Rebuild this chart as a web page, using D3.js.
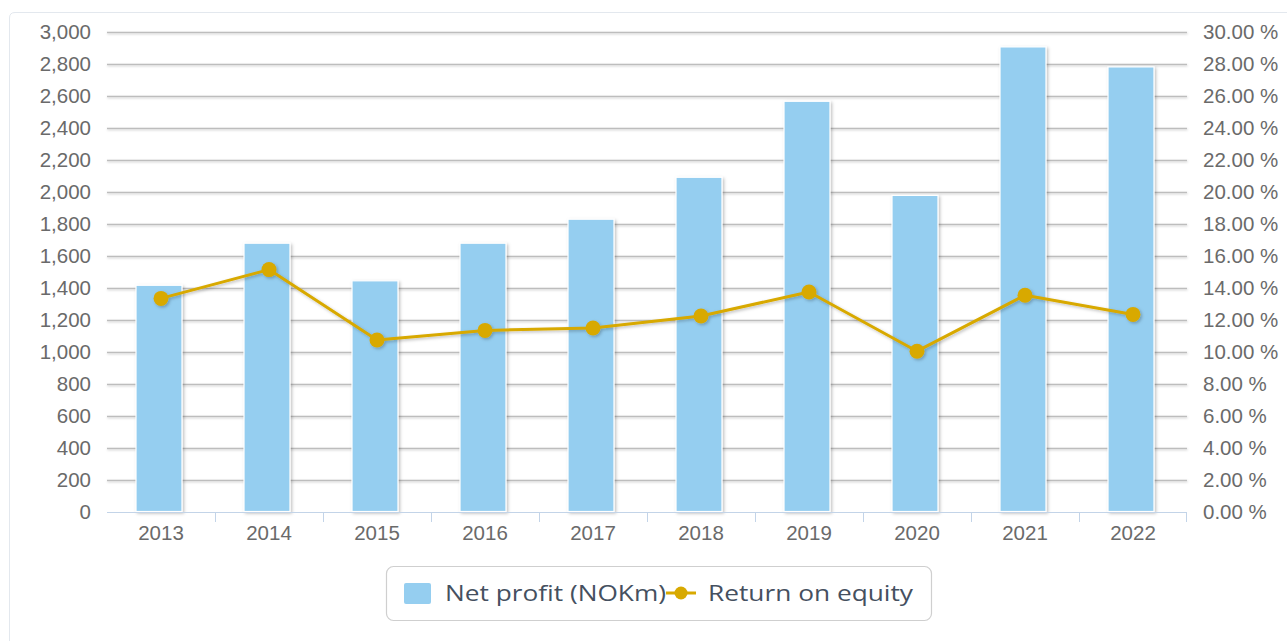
<!DOCTYPE html>
<html><head><meta charset="utf-8">
<script src="https://cdn.jsdelivr.net/npm/d3@7"></script>
<style>body{margin:0;background:#fff;}svg{display:block;}</style>
</head><body>
<svg id="c" width="1287" height="641"></svg>
<script>
const years = ["2013","2014","2015","2016","2017","2018","2019","2020","2021","2022"];
const netProfit = [1420, 1683, 1448, 1683, 1833, 2095, 2570, 1982, 2910, 2785];
const roe = [13.35, 15.15, 10.75, 11.35, 11.5, 12.25, 13.75, 10.05, 13.55, 12.35];
const leftTicks = d3.range(0, 3001, 200);
const rightTicks = d3.range(0, 30.01, 2);
const seriesNames = ["Net profit (NOKm)", "Return on equity"];

const barColor = "#95cef0", lineColor = "#d8a900";
const svg = d3.select("#c");
const defs = svg.append("defs");
const f = defs.append("filter").attr("id","sh").attr("x","-20%").attr("y","-20%").attr("width","150%").attr("height","150%");
f.append("feDropShadow").attr("dx",1.5).attr("dy",1.5).attr("stdDeviation",1.5).attr("flood-color","#000").attr("flood-opacity",0.25);
const f2 = defs.append("filter").attr("id","sh2").attr("x","-5%").attr("y","-50%").attr("width","110%").attr("height","200%");
f2.append("feDropShadow").attr("dx",0.5).attr("dy",1).attr("stdDeviation",0.8).attr("flood-color","#000").attr("flood-opacity",0.2);

// container border
svg.append("path").attr("d","M9.5,641 L9.5,18 Q9.5,12.5 15,12.5 L1287,12.5").attr("fill","none").attr("stroke","#e3e8ee").attr("stroke-width",1);

const L = 107, R = 1187, T = 32, B = 512;
const x = d3.scaleBand().domain(years).range([L, R]).paddingInner(0.565).paddingOuter(0.2825);
const yL = d3.scaleLinear().domain([0, 3000]).range([B, T]);
const yR = d3.scaleLinear().domain([0, 30]).range([B, T]);

const font = "'Liberation Sans', Arial, sans-serif";
const fs = 20.5;

// gridlines
svg.append("g").attr("filter","url(#sh2)").selectAll("line").data(leftTicks.filter(d=>d>0)).join("line")
  .attr("x1", L).attr("x2", R).attr("y1", d=>Math.round(yL(d))+0.5).attr("y2", d=>Math.round(yL(d))+0.5)
  .attr("stroke","#bdbdbd").attr("stroke-width",1.3);

// left axis
const gl = svg.append("g").attr("transform",`translate(${L},0)`)
  .call(d3.axisLeft(yL).tickValues(leftTicks).tickFormat(d3.format(",")).tickSize(0).tickPadding(16));
gl.select(".domain").remove();
gl.selectAll("text").attr("font-family",font).attr("font-size",fs).attr("fill","#6a6a6a");

// right axis
const gr = svg.append("g").attr("transform",`translate(${R},0)`)
  .call(d3.axisRight(yR).tickValues(rightTicks).tickFormat(d=>d3.format(".2f")(d)+" %").tickSize(0).tickPadding(16));
gr.select(".domain").remove();
gr.selectAll("text").attr("font-family",font).attr("font-size",fs).attr("fill","#6a6a6a");

// bars (slightly offset left like the original)
svg.append("g").attr("transform","translate(-2,0)").selectAll("rect").data(years).join("rect")
  .attr("x", d=>x(d)+0.5).attr("width", x.bandwidth()-1)
  .attr("y", (d,i)=>yL(netProfit[i])+0.5).attr("height",(d,i)=>B-yL(netProfit[i])-1)
  .attr("fill",barColor).attr("stroke","#fff").attr("stroke-width",1.2).attr("filter","url(#sh)");

// x axis
svg.append("line").attr("x1",L).attr("x2",R).attr("y1",B+0.5).attr("y2",B+0.5).attr("stroke","#c3d4e8").attr("stroke-width",1);
svg.append("g").selectAll("line").data(years.slice(1).concat(["end"])).join("line")
  .attr("x1",d=>d==="end"?R-0.5:Math.round(x(d)-x.step()*0.2825)+0.5)
  .attr("x2",d=>d==="end"?R-0.5:Math.round(x(d)-x.step()*0.2825)+0.5)
  .attr("y1",B).attr("y2",B+10).attr("stroke","#c3d4e8").attr("stroke-width",1);
svg.append("g").selectAll("text").data(years).join("text")
  .attr("x",d=>x(d)+x.bandwidth()/2).attr("y",540)
  .attr("text-anchor","middle").attr("font-family",font).attr("font-size",fs).attr("fill","#6a6a6a").text(d=>d);

// line
const cx = (d,i)=>x(years[i])+x.bandwidth()/2;
const line = d3.line().x((d,i)=>cx(d,i)).y(d=>yR(d));
const lg = svg.append("g").attr("filter","url(#sh)");
lg.append("path").datum(roe).attr("d",line).attr("fill","none").attr("stroke",lineColor).attr("stroke-width",3).attr("stroke-linejoin","round");
lg.selectAll("circle").data(roe).join("circle").attr("cx",cx).attr("cy",d=>yR(d)).attr("r",7.5).attr("fill",lineColor);

// legend
const leg = svg.append("g");
leg.append("rect").attr("x",386.5).attr("y",566.5).attr("width",545).attr("height",54).attr("rx",7)
  .attr("fill","#fff").attr("stroke","#cfcfcf").attr("stroke-width",1.2);
leg.append("rect").attr("x",404).attr("y",583).attr("width",27).attr("height",21).attr("rx",2).attr("fill",barColor);
const lfont = "'Open Sans', Lato, sans-serif";
leg.append("text").attr("x",445).attr("y",601).attr("font-family",lfont).attr("font-size",21).attr("fill","#45505f")
  .attr("textLength",221).attr("lengthAdjust","spacingAndGlyphs").text(seriesNames[0]);
leg.append("line").attr("x1",666).attr("x2",696).attr("y1",593).attr("y2",593).attr("stroke",lineColor).attr("stroke-width",3);
leg.append("circle").attr("cx",681).attr("cy",593).attr("r",6.5).attr("fill",lineColor);
leg.append("text").attr("x",708).attr("y",601).attr("font-family",lfont).attr("font-size",21).attr("fill","#45505f")
  .attr("textLength",205).attr("lengthAdjust","spacingAndGlyphs").text(seriesNames[1]);
</script>
</body></html>
